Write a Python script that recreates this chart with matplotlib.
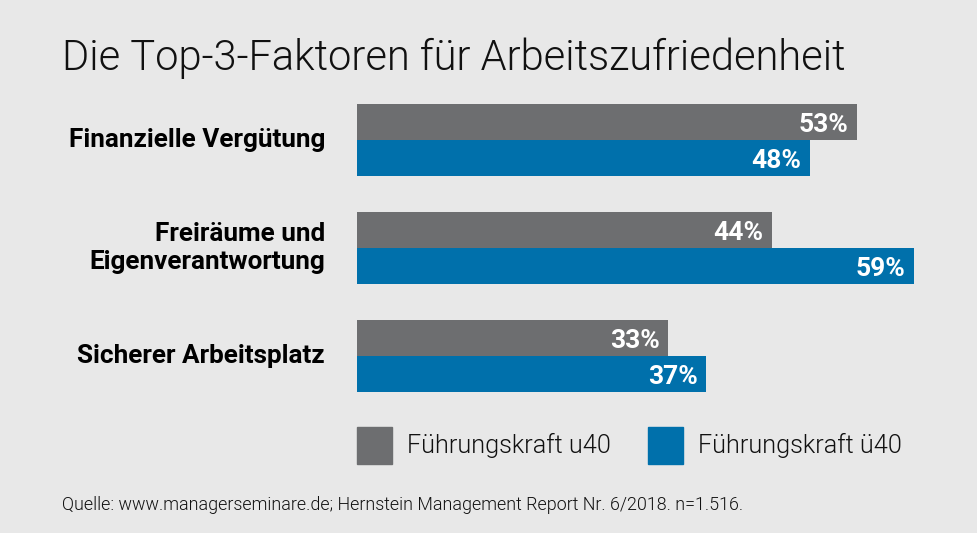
import matplotlib
matplotlib.use('Agg')
import matplotlib.pyplot as plt
from matplotlib.patches import Rectangle
import numpy as np

# data
categories = ['Finanzielle Vergütung', 'Freiräume und\nEigenverantwortung', 'Sicherer Arbeitsplatz']
u40 = [53, 44, 33]
ue40 = [48, 59, 37]
series_names = ['Führungskraft u40', 'Führungskraft ü40']
title = 'Die Top-3-Faktoren für Arbeitszufriedenheit'
source = 'Quelle: www.managerseminare.de; Hernstein Management Report Nr. 6/2018. n=1.516.'

GRAY = '#6d6e70'
BLUE = '#0070ab'
BG = '#e8e8e8'

plt.rcParams['font.family'] = ['Roboto', 'DejaVu Sans']

W, H = 978, 533
fig = plt.figure(figsize=(W / 100, H / 100), dpi=100, facecolor=BG)

def fx(px):
    return px / W

def fy(py):
    return 1 - py / H

# axes: x 0..60 over 357..923 px, y in group units (108 px each)
ax = fig.add_axes([fx(357), fy(400), fx(566), 300 / H])
ax.set_facecolor(BG)
ax.set_xlim(0, 60)
ax.set_ylim(260 / 108, -40 / 108)
ax.axis('off')

y = np.arange(len(categories))
bh = 36 / 108
ax.barh(y - bh / 2, u40, height=bh, color=GRAY)
ax.barh(y + bh / 2, ue40, height=bh, color=BLUE)

for i in range(len(categories)):
    ax.text(u40[i] - 0.9, y[i] - bh / 2, f'{u40[i]}%', ha='right', va='center_baseline',
            color='white', fontsize=19, fontweight='bold')
    ax.text(ue40[i] - 0.9, y[i] + bh / 2, f'{ue40[i]}%', ha='right', va='center_baseline',
            color='white', fontsize=19, fontweight='bold')
    ax.text(-3.4, y[i], categories[i], ha='right', va='center', color='black',
            fontsize=18.8, fontweight='bold', linespacing=1.2)

fig.text(fx(62), fy(70), title, ha='left', va='baseline', fontsize=30.0,
         fontweight=300, color='#111111')

# legend
for k, (name, col, x0) in enumerate(zip(series_names, [GRAY, BLUE], [357, 648])):
    fig.add_artist(Rectangle((fx(x0), fy(464)), fx(35), 37 / H, color=col,
                             transform=fig.transFigure))
    fig.text(fx(x0 + 50), fy(445), name, ha='left', va='center', fontsize=18.2,
             fontweight=300, color='#111111')

fig.text(fx(62), fy(510), source, ha='left', va='baseline', fontsize=12.9,
         fontweight=300, color='#111111')

fig.savefig('out.png', dpi=100, facecolor=BG)
